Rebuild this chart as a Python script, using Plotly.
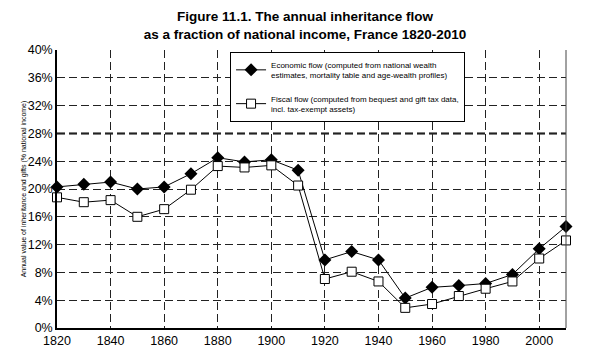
import plotly.graph_objects as go

years = [1820, 1830, 1840, 1850, 1860, 1870, 1880, 1890, 1900, 1910,
         1920, 1930, 1940, 1950, 1960, 1970, 1980, 1990, 2000, 2010]
economic = [20.3, 20.7, 21.0, 20.0, 20.3, 22.2, 24.5, 23.9, 24.2, 22.7,
            9.8, 11.0, 9.8, 4.3, 5.85, 6.1, 6.4, 7.7, 11.4, 14.6]
fiscal = [18.8, 18.1, 18.4, 16.0, 17.1, 19.9, 23.3, 23.1, 23.4, 20.5,
          7.05, 8.1, 6.7, 2.9, 3.45, 4.6, 5.65, 6.7, 10.0, 12.6]
y_ticks = [0, 4, 8, 12, 16, 20, 24, 28, 32, 36, 40]
y_tick_labels = [f"{v}%" for v in y_ticks]

FONT = "Liberation Sans, Arial, sans-serif"

fig = go.Figure()
fig.add_trace(go.Scatter(
    x=years, y=economic, mode="lines+markers",
    name="Economic flow (computed from national wealth<br>estimates, mortality table and age-wealth profiles)",
    line=dict(color="black", width=1),
    marker=dict(symbol="diamond", size=10, color="black"),
    cliponaxis=False, legendgroup="a",
))
fig.add_trace(go.Scatter(
    x=years, y=fiscal, mode="lines+markers",
    name="Fiscal flow (computed from bequest and gift tax data,<br>incl. tax-exempt assets)",
    line=dict(color="black", width=1),
    marker=dict(symbol="square", size=9, color="white", line=dict(color="black", width=1)),
    cliponaxis=False, legendgroup="b",
))

# emphasised 28% reference line and right border
fig.add_shape(type="line", xref="paper", x0=0, x1=1, yref="y", y0=28, y1=28,
              line=dict(color="black", width=2, dash="8px,4px"), layer="below")
fig.add_shape(type="line", xref="paper", x0=1, x1=1, yref="paper", y0=0, y1=1,
              line=dict(color="#444", width=1))

fig.update_layout(
    width=590, height=354,
    margin=dict(l=57, r=24, t=50, b=26, autoexpand=False),
    paper_bgcolor="white", plot_bgcolor="white",
    font=dict(family=FONT, color="black"),
    title=dict(
        text="<b>Figure 11.1. The annual inheritance flow<br>as a fraction of national income, France 1820-2010</b>",
        x=0.517, xanchor="center", yref="container", y=0.94, yanchor="middle",
        font=dict(size=13.5, family=FONT, color="black"),
    ),
    showlegend=True,
    legend=dict(
        x=0.34, y=0.993, xanchor="left", yanchor="top",
        bgcolor="white", bordercolor="black", borderwidth=1,
        font=dict(size=8, family=FONT), tracegroupgap=10,
        itemwidth=30,
    ),
    xaxis=dict(
        range=[1820, 2010], tickmode="array", tickvals=list(range(1820, 2011, 20)),
        showgrid=True, gridcolor="#222", griddash="8px,4px", gridwidth=1,
        showline=True, linecolor="black", linewidth=1.5, automargin=False,
        ticks="", tickfont=dict(size=12.5), zeroline=False,
    ),
    yaxis=dict(
        range=[0, 40], tickmode="array", tickvals=y_ticks, ticktext=y_tick_labels,
        showgrid=True, gridcolor="#222", griddash="8px,4px", gridwidth=1,
        showline=True, linecolor="black", linewidth=1.5, automargin=False,
        ticks="", tickfont=dict(size=12.5), zeroline=False,
        title=dict(text="Annual value of inheritance and gifts (% national income)",
                   font=dict(size=7), standoff=0),
    ),
)

fig.write_html("out.html")
